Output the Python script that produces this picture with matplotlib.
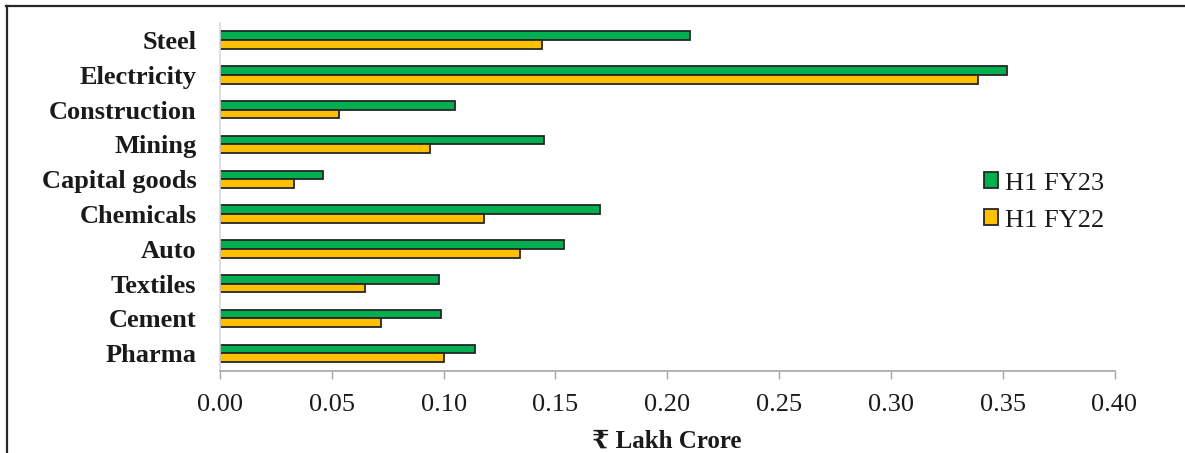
import matplotlib.pyplot as plt
from matplotlib.lines import Line2D
import numpy as np

sectors = ['Steel', 'Electricity', 'Construction', 'Mining', 'Capital goods',
           'Chemicals', 'Auto', 'Textiles', 'Cement', 'Pharma']
fy23 = [0.210, 0.352, 0.105, 0.145, 0.046, 0.170, 0.154, 0.098, 0.099, 0.114]
fy22 = [0.144, 0.339, 0.053, 0.094, 0.033, 0.118, 0.134, 0.065, 0.072, 0.100]
ticks = [0.00, 0.05, 0.10, 0.15, 0.20, 0.25, 0.30, 0.35, 0.40]

serif = ['Liberation Serif', 'DejaVu Serif', 'DejaVu Sans']
plt.rcParams['font.family'] = serif

fig = plt.figure(figsize=(11.85, 4.53), dpi=100)
ax = fig.add_axes([220/1185, 1 - 370.7/453, (1114.5 - 220)/1185, (370.7 - 22.7)/453])

y = np.arange(len(sectors))
h = 0.25
ax.barh(y - h/2, fy23, height=h, color='#00B050', edgecolor='#262626', linewidth=1.3, label='H1 FY23')
ax.barh(y + h/2, fy22, height=h, color='#FFC000', edgecolor='#262626', linewidth=1.3, label='H1 FY22')

ax.set_ylim(len(sectors) - 0.5, -0.5)
ax.set_xlim(0, 0.40)
ax.set_yticks(y)
ax.set_yticklabels(sectors, fontsize=19, fontweight='bold', color='#1a1a1a')
ax.set_xticks(ticks)
ax.set_xticklabels(['%.2f' % t for t in ticks], fontsize=19, color='#1a1a1a')
ax.tick_params(axis='y', length=0, pad=17)
ax.tick_params(axis='x', length=5.5, width=1, color='#a6a6a6', pad=11)

for s in ['top', 'right']:
    ax.spines[s].set_visible(False)
ax.spines['left'].set_color('#d9d9d9')
ax.spines['bottom'].set_color('#a6a6a6')
ax.spines['left'].set_linewidth(1.2)
ax.spines['bottom'].set_linewidth(1.2)

ax.set_xlabel('₹ Lakh Crore', fontsize=18, fontweight='bold', color='#1a1a1a', labelpad=10)

ax.legend(loc='center left', bbox_to_anchor=((973 - 220)/(1114.5 - 220), 1 - (202 - 22.7)/348),
          frameon=False, fontsize=19, handlelength=0.55, handleheight=0.55, handletextpad=0.25,
          labelspacing=0.56, borderaxespad=0, labelcolor='#1a1a1a')

# outer frame (top and left edges only, the rest is cropped)
fig.add_artist(Line2D([6/1185, 1], [1 - 6/453, 1 - 6/453], color='#262626', lw=1.6))
fig.add_artist(Line2D([6.5/1185, 6.5/1185], [0, 1 - 6/453], color='#262626', lw=1.6))

fig.savefig('out.png', dpi=100)
